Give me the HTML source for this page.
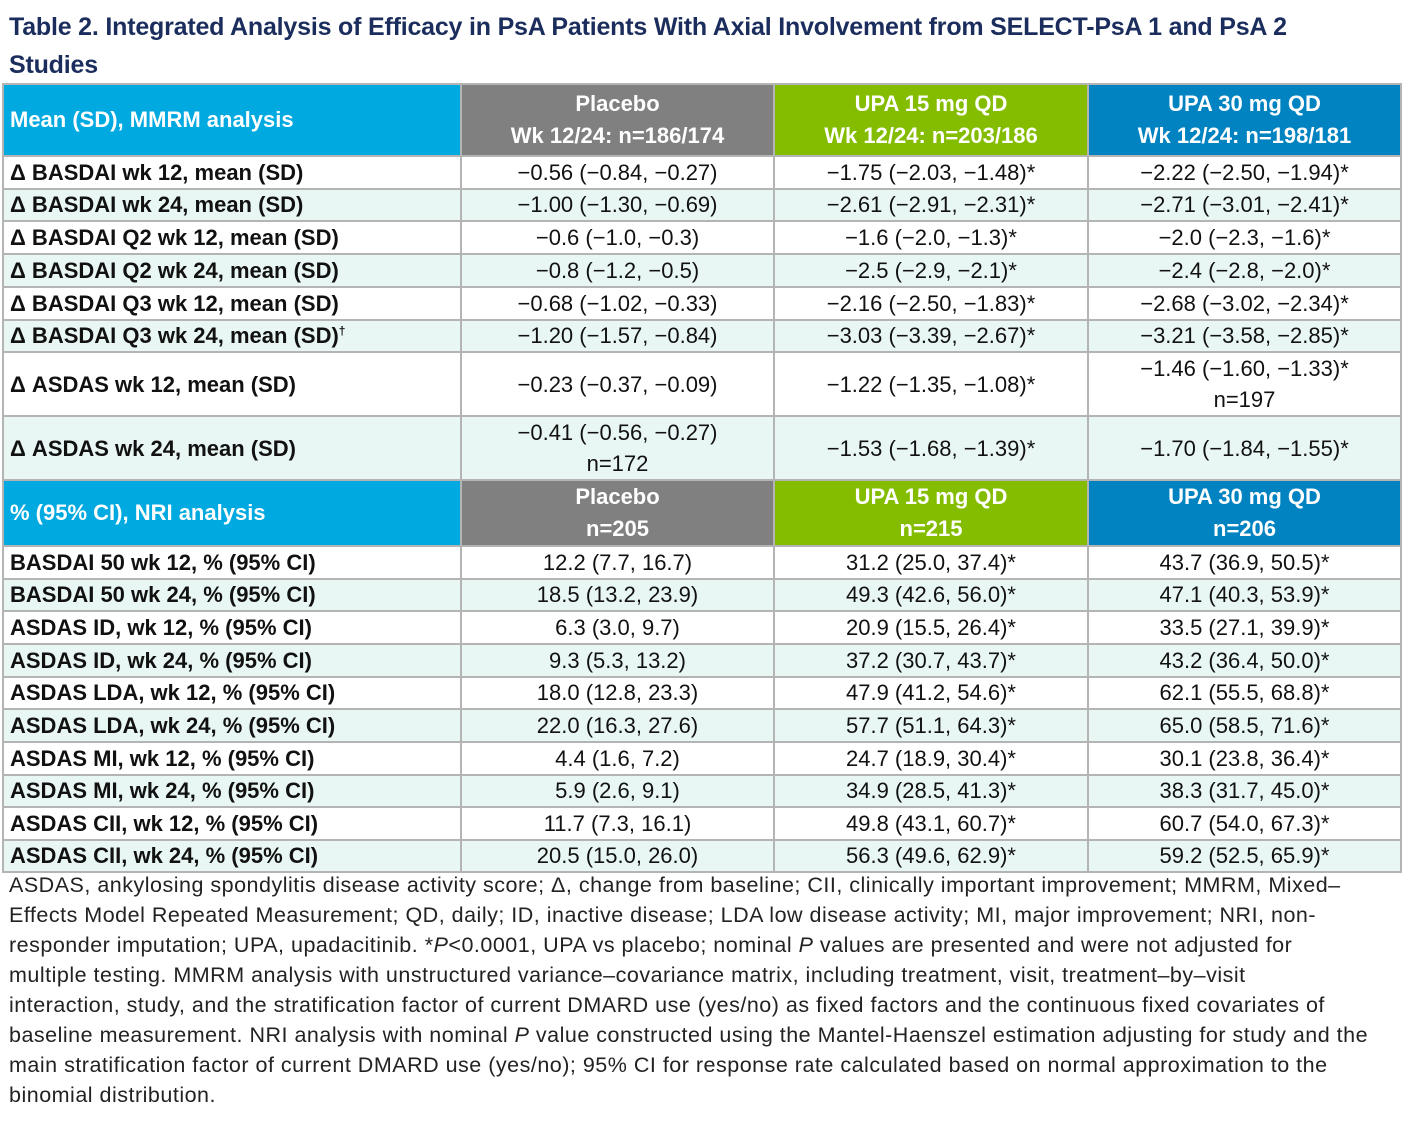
<!DOCTYPE html>
<html><head><meta charset="utf-8">
<style>
*{margin:0;padding:0;box-sizing:border-box}
body{width:1402px;height:1126px;background:#fff;font-family:"Liberation Sans",sans-serif;position:relative;overflow:hidden}
#title{position:absolute;left:9px;top:8px;width:1395px;color:#1b2d5c;font-weight:bold;font-size:25px;line-height:38px;letter-spacing:-0.2px;white-space:nowrap}
table{position:absolute;left:2px;top:83px;border-collapse:collapse;table-layout:fixed;width:1398px}
td{border:2px solid #b4b4b4;font-size:22px;text-align:center;color:#111;padding:0;line-height:26px;overflow:hidden}
td.l{text-align:left;font-weight:bold;padding-left:6px;white-space:nowrap}
tr.a td{background:#e9f7f4}
tr.t td{line-height:31px}
tr.h td{color:#fff;font-weight:bold;font-size:22px;line-height:32px}
td.c0{background:#00a9e0 !important;text-align:left;padding-left:6px}
td.c1{background:#808080 !important}
td.c2{background:#84bd00 !important}
td.c3{background:#0083c0 !important}
sup{font-size:12px;line-height:0;vertical-align:8px}
#foot{position:absolute;left:9px;top:870px;font-size:21.5px;line-height:30px;color:#222;white-space:nowrap;letter-spacing:0.5px}
</style></head><body>
<div id="title">Table 2. Integrated Analysis of Efficacy in PsA Patients With Axial Involvement from SELECT-PsA 1 and PsA 2<br>Studies</div>
<table>
<colgroup><col style="width:458px"><col style="width:313px"><col style="width:314px"><col style="width:313px"></colgroup>
<tr class="h" style="height:72px"><td class="c0">Mean (SD), MMRM analysis</td><td class="c1">Placebo<br>Wk 12/24: n=186/174</td><td class="c2">UPA 15 mg QD<br>Wk 12/24: n=203/186</td><td class="c3">UPA 30 mg QD<br>Wk 12/24: n=198/181</td></tr>
<tr style="height:33px"><td class="l">Δ BASDAI wk 12, mean (SD)</td><td>−0.56 (−0.84, −0.27)</td><td>−1.75 (−2.03, −1.48)*</td><td>−2.22 (−2.50, −1.94)*</td></tr>
<tr class="a" style="height:32px"><td class="l">Δ BASDAI wk 24, mean (SD)</td><td>−1.00 (−1.30, −0.69)</td><td>−2.61 (−2.91, −2.31)*</td><td>−2.71 (−3.01, −2.41)*</td></tr>
<tr style="height:33px"><td class="l">Δ BASDAI Q2 wk 12, mean (SD)</td><td>−0.6 (−1.0, −0.3)</td><td>−1.6 (−2.0, −1.3)*</td><td>−2.0 (−2.3, −1.6)*</td></tr>
<tr class="a" style="height:33px"><td class="l">Δ BASDAI Q2 wk 24, mean (SD)</td><td>−0.8 (−1.2, −0.5)</td><td>−2.5 (−2.9, −2.1)*</td><td>−2.4 (−2.8, −2.0)*</td></tr>
<tr style="height:33px"><td class="l">Δ BASDAI Q3 wk 12, mean (SD)</td><td>−0.68 (−1.02, −0.33)</td><td>−2.16 (−2.50, −1.83)*</td><td>−2.68 (−3.02, −2.34)*</td></tr>
<tr class="a" style="height:32px"><td class="l">Δ BASDAI Q3 wk 24, mean (SD)<sup>†</sup></td><td>−1.20 (−1.57, −0.84)</td><td>−3.03 (−3.39, −2.67)*</td><td>−3.21 (−3.58, −2.85)*</td></tr>
<tr class="t" style="height:64px"><td class="l">Δ ASDAS wk 12, mean (SD)</td><td>−0.23 (−0.37, −0.09)</td><td>−1.22 (−1.35, −1.08)*</td><td>−1.46 (−1.60, −1.33)*<br>n=197</td></tr>
<tr class="a t" style="height:64px"><td class="l">Δ ASDAS wk 24, mean (SD)</td><td>−0.41 (−0.56, −0.27)<br>n=172</td><td>−1.53 (−1.68, −1.39)*</td><td>−1.70 (−1.84, −1.55)*</td></tr>
<tr class="h" style="height:65px"><td class="c0">% (95% CI), NRI analysis</td><td class="c1">Placebo<br>n=205</td><td class="c2">UPA 15 mg QD<br>n=215</td><td class="c3">UPA 30 mg QD<br>n=206</td></tr>
<tr style="height:33px"><td class="l">BASDAI 50 wk 12, % (95% CI)</td><td>12.2 (7.7, 16.7)</td><td>31.2 (25.0, 37.4)*</td><td>43.7 (36.9, 50.5)*</td></tr>
<tr class="a" style="height:32px"><td class="l">BASDAI 50 wk 24, % (95% CI)</td><td>18.5 (13.2, 23.9)</td><td>49.3 (42.6, 56.0)*</td><td>47.1 (40.3, 53.9)*</td></tr>
<tr style="height:33px"><td class="l">ASDAS ID, wk 12, % (95% CI)</td><td>6.3 (3.0, 9.7)</td><td>20.9 (15.5, 26.4)*</td><td>33.5 (27.1, 39.9)*</td></tr>
<tr class="a" style="height:33px"><td class="l">ASDAS ID, wk 24, % (95% CI)</td><td>9.3 (5.3, 13.2)</td><td>37.2 (30.7, 43.7)*</td><td>43.2 (36.4, 50.0)*</td></tr>
<tr style="height:32px"><td class="l">ASDAS LDA, wk 12, % (95% CI)</td><td>18.0 (12.8, 23.3)</td><td>47.9 (41.2, 54.6)*</td><td>62.1 (55.5, 68.8)*</td></tr>
<tr class="a" style="height:33px"><td class="l">ASDAS LDA, wk 24, % (95% CI)</td><td>22.0 (16.3, 27.6)</td><td>57.7 (51.1, 64.3)*</td><td>65.0 (58.5, 71.6)*</td></tr>
<tr style="height:33px"><td class="l">ASDAS MI, wk 12, % (95% CI)</td><td>4.4 (1.6, 7.2)</td><td>24.7 (18.9, 30.4)*</td><td>30.1 (23.8, 36.4)*</td></tr>
<tr class="a" style="height:32px"><td class="l">ASDAS MI, wk 24, % (95% CI)</td><td>5.9 (2.6, 9.1)</td><td>34.9 (28.5, 41.3)*</td><td>38.3 (31.7, 45.0)*</td></tr>
<tr style="height:33px"><td class="l">ASDAS CII, wk 12, % (95% CI)</td><td>11.7 (7.3, 16.1)</td><td>49.8 (43.1, 60.7)*</td><td>60.7 (54.0, 67.3)*</td></tr>
<tr class="a" style="height:32px"><td class="l">ASDAS CII, wk 24, % (95% CI)</td><td>20.5 (15.0, 26.0)</td><td>56.3 (49.6, 62.9)*</td><td>59.2 (52.5, 65.9)*</td></tr>
</table>
<div id="foot">ASDAS, ankylosing spondylitis disease activity score; Δ, change from baseline; CII, clinically important improvement; MMRM, Mixed–<br>Effects Model Repeated Measurement; QD, daily; ID, inactive disease; LDA low disease activity; MI, major improvement; NRI, non-<br>responder imputation; UPA, upadacitinib. *<i>P</i>&lt;0.0001, UPA vs placebo; nominal <i>P</i> values are presented and were not adjusted for<br>multiple testing. MMRM analysis with unstructured variance–covariance matrix, including treatment, visit, treatment–by–visit<br>interaction, study, and the stratification factor of current DMARD use (yes/no) as fixed factors and the continuous fixed covariates of<br>baseline measurement. NRI analysis with nominal <i>P</i> value constructed using the Mantel-Haenszel estimation adjusting for study and the<br>main stratification factor of current DMARD use (yes/no); 95% CI for response rate calculated based on normal approximation to the<br>binomial distribution.</div>
</body></html>
